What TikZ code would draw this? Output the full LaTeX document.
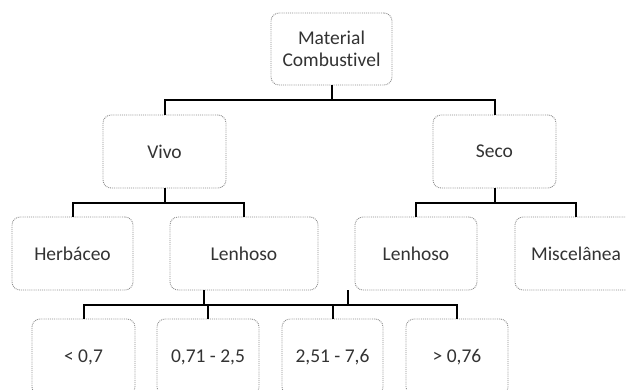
\documentclass[tikz,border=0pt]{standalone}
\usepackage{fontspec}
\setmainfont{Carlito}[Ligatures={NoCommon}]
\usetikzlibrary{calc}
\definecolor{txt}{HTML}{333333}
\definecolor{bord}{HTML}{8C8C8C}
\tikzset{
  box/.style={draw=bord, line width=0.9pt, densely dotted, rounded corners=8pt, fill=white,
    text=txt, align=center, font=\fontsize{19.5}{22}\selectfont, inner sep=0pt},
  conn/.style={draw=black, line width=2pt}
}
\begin{document}
\begin{tikzpicture}[x=1pt,y=-1pt]
\useasboundingbox (0,0) rectangle (626,390);
\clip (0,0) rectangle (626,390);
% nodes
\node[box, minimum width=121pt, minimum height=72pt] (top) at (331.5,49) {Material\\Combustivel};
\node[box, minimum width=123pt, minimum height=73pt] (vivo) at (164.5,151.5) {Vivo};
\node[box, minimum width=123pt, minimum height=73pt] (seco) at (494.5,151.5) {Seco};
\node[box, minimum width=121pt, minimum height=73pt] (herb) at (72.5,253.5) {Herbáceo};
\node[box, minimum width=148pt, minimum height=73pt] (len1) at (244,253.5) {Lenhoso};
\node[box, minimum width=122pt, minimum height=73pt] (len2) at (416,253.5) {Lenhoso};
\node[box, minimum width=122pt, minimum height=73pt] (misc) at (576,253.5) {Miscelânea};
\node[box, minimum width=103pt, minimum height=76pt] (b1) at (83.5,357) {< 0,7};
\node[box, minimum width=102pt, minimum height=76pt] (b2) at (208,357) {0,71 - 2,5};
\node[box, minimum width=101pt, minimum height=76pt] (b3) at (332.5,357) {2,51 - 7,6};
\node[box, minimum width=102pt, minimum height=76pt] (b4) at (457,357) {> 0,76};
% connectors
\draw[conn] (top.south) -- ++(0,15) coordinate (tj);
\draw[conn] (vivo.north) |- (tj) -| (seco.north);
\draw[conn] (vivo.south) -- ++(0,15) coordinate (vj);
\draw[conn] (herb.north) |- (vj) -| (len1.north);
\draw[conn] (seco.south) -- ++(0,15) coordinate (sj);
\draw[conn] (len2.north) |- (sj) -| (misc.north);
\coordinate (l1s) at ($(len1.south)+(-40,0)$);
\coordinate (l2s) at ($(len2.south)+(-68,0)$);
\draw[conn] (l1s) -- ++(0,15) coordinate (lj1);
\draw[conn] (l2s) -- ++(0,15) coordinate (lj2);
\draw[conn] (b1.north) |- (lj1) -- (lj2) -| (b4.north);
\draw[conn] (b2.north) -- (b2.north |- lj1);
\draw[conn] (b3.north) -- (b3.north |- lj1);
\end{tikzpicture}
\end{document}
